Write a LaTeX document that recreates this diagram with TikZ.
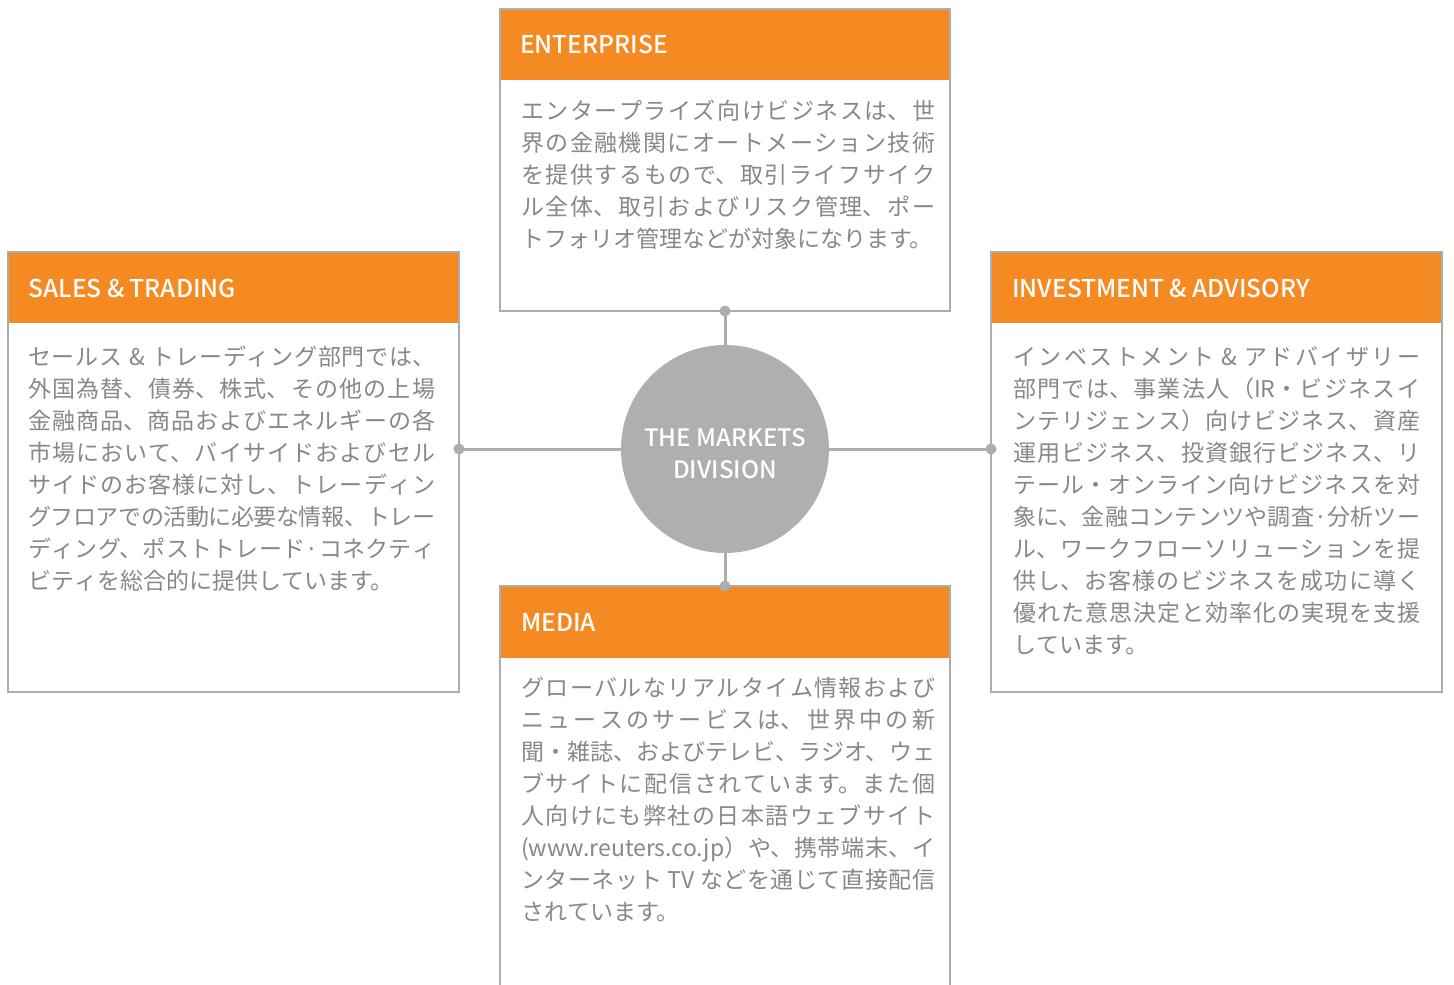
\documentclass[tikz,border=0pt]{standalone}
\usepackage{fontspec}
\setmainfont{Noto Sans CJK JP}
\newfontfamily\hdfont{Noto Sans CJK JP Medium}
\XeTeXlinebreaklocale "ja"
\XeTeXlinebreakskip=0pt plus 4pt minus 1pt
\setlength{\parindent}{0pt}
\tolerance=10000
\definecolor{orng}{HTML}{F58A22}
\definecolor{bord}{HTML}{ABADB0}
\definecolor{txtg}{HTML}{87888A}
\definecolor{hubc}{HTML}{ADAFB1}
\newcommand{\NL}{\linebreak}
\newcommand{\firststrut}{\leavevmode\vrule width 0pt height 22pt depth 0pt\relax}
\begin{document}
\begin{tikzpicture}[x=1pt,y=-1pt,
  hdr/.style={rectangle,fill=orng,inner sep=0,outer sep=0,anchor=north west,minimum width=450pt},
  frame/.style={rectangle,draw=bord,line width=2.5pt,inner sep=0,outer sep=0,anchor=north west,minimum width=450pt},
  hdtext/.style={anchor=base west,inner sep=0,text=white,font=\hdfont\fontsize{24.5}{28}\selectfont},
  body/.style={anchor=north west,inner sep=0,text=txtg,align=justify,
    font=\fontsize{23}{32}\selectfont},
  dotn/.style={circle,fill=bord,minimum size=11pt,inner sep=0},
  conn/.style={draw=bord,line width=3pt},
  hub/.style={circle,fill=hubc,minimum size=208pt,inner sep=0,text=white,align=center,
    text height=60pt,font=\hdfont\fontsize{24}{32}\selectfont}]
\clip (0,0) rectangle (1454,985);
\fill[white] (0,0) rectangle (1454,985);

% ENTERPRISE
\node[hdr,minimum height=71pt] (entH) at (500,9) {};
\node[frame,minimum height=302pt] (ent) at (500,9) {};
\node[hdtext] (entT) at (520,53) {ENTERPRISE};
\node[body,text width=414pt] (entB) at (521,97) {\firststrut エンタープライズ向けビジネスは、世\NL%
界の金融機関にオートメーション技術\NL%
を提供するもので、取引ライフサイク\NL%
ル全体、取引およびリスク管理、ポー\NL%
トフォリオ管理などが対象になります。};

% SALES & TRADING
\node[hdr,minimum height=71pt,minimum width=451pt] (salH) at (8,252) {};
\node[frame,minimum height=440pt,minimum width=451pt] (sal) at (8,252) {};
\node[hdtext] (salT) at (28,297) {SALES \& TRADING};
\node[body,text width=407pt] (salB) at (28,343) {\firststrut セールス\hspace{7pt}\&\hspace{7pt}トレーディング部門では、\NL%
外国為替、債券、株式、その他の上場\NL%
金融商品、商品およびエネルギーの各\NL%
市場において、バイサイドおよびセル\NL%
サイドのお客様に対し、トレーディン\NL%
グフロアでの活動に必要な情報、トレー\NL%
ディング、ポストトレード·コネクティ\NL%
ビティを総合的に提供しています。};

% INVESTMENT & ADVISORY
\node[hdr,minimum height=71pt,minimum width=451pt] (invH) at (991,252) {};
\node[frame,minimum height=440pt,minimum width=451pt] (inv) at (991,252) {};
\node[hdtext] (invT) at (1012,297) {INVESTMENT \& ADVISORY};
\node[body,text width=407pt] (invB) at (1013,343) {\firststrut インベストメント \& アドバイザリー\NL%
部門では、事業法人（IR・ビジネスイ\NL%
ンテリジェンス）向けビジネス、資産\NL%
運用ビジネス、投資銀行ビジネス、リ\NL%
テール・オンライン向けビジネスを対\NL%
象に、金融コンテンツや調査·分析ツー\NL%
ル、ワークフローソリューションを提\NL%
供し、お客様のビジネスを成功に導く\NL%
優れた意思決定と効率化の実現を支援\NL%
しています。};

% MEDIA
\node[hdr,minimum height=72pt] (medH) at (500,586) {};
\node[frame,minimum height=430pt] (med) at (500,586) {};
\node[hdtext] (medT) at (521,631) {MEDIA};
\node[body,text width=414pt] (medB) at (521,674) {\firststrut グローバルなリアルタイム情報および\NL%
ニュースのサービスは、世界中の新\NL%
聞・雑誌、およびテレビ、ラジオ、ウェ\NL%
ブサイトに配信されています。また個\NL%
人向けにも弊社の日本語ウェブサイト\NL%
(www.reuters.co.jp）や、携帯端末、イ\NL%
ンターネット TV などを通じて直接配信\NL%
されています。};

% hub and connectors
\node[hub] (hub) at (725,449) {THE MARKETS\\DIVISION};
\node[dotn] (dE) at (725,311) {};
\node[dotn] (dM) at (725,586) {};
\node[dotn] (dS) at (459,449) {};
\node[dotn] (dI) at (991,449) {};
\draw[conn] (dE.center) -- (hub);
\draw[conn] (dM.center) -- (hub);
\draw[conn] (dS.center) -- (hub);
\draw[conn] (dI.center) -- (hub);
\end{tikzpicture}
\end{document}
